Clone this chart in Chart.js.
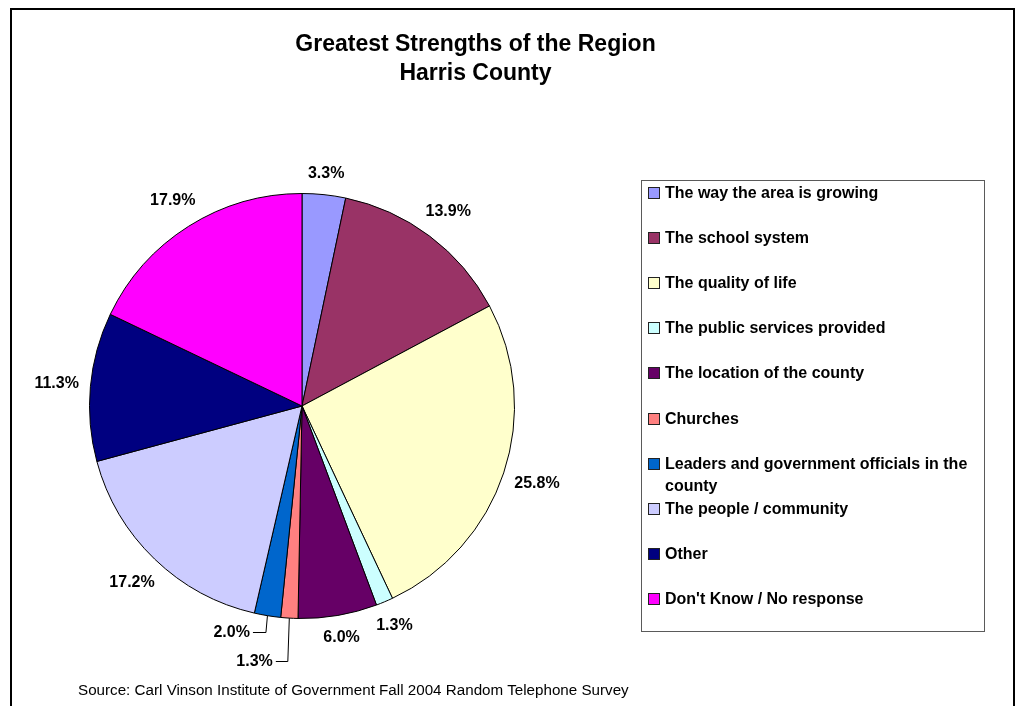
<!DOCTYPE html>
<html>
<head>
<meta charset="utf-8">
<script src="https://cdn.jsdelivr.net/npm/chart.js@4.4.1/dist/chart.umd.min.js"></script>
<style>
  html, body { margin: 0; padding: 0; background: #fff; }
  body { width: 1019px; height: 706px; position: relative; overflow: hidden; font-family: "Liberation Sans", Arial, sans-serif; }
  #frame { position: absolute; left: 10px; top: 8px; width: 1005px; height: 760px; border: 2px solid #000; box-sizing: border-box; }
  #wrap { position: absolute; left: 0; top: 0; width: 1019px; height: 706px; }
  #title { position: absolute; left: 0; width: 951px; top: 29px; text-align: center; font-weight: bold; font-size: 23px; line-height: 29px; color: #000; }
  #legend { position: absolute; left: 641px; top: 180px; width: 344px; height: 452px; border: 1px solid #5a5a5a; box-sizing: border-box; background: #fff; }
  .item { position: absolute; left: 6px; display: flex; align-items: flex-start; font-weight: bold; font-size: 16px; line-height: 22px; color: #000; }
  .sw { width: 10px; height: 10px; border: 1px solid #222; margin-top: 5px; margin-right: 5px; flex: none; }
  .txt { width: 315px; }
  #source { position: absolute; left: 78px; top: 681px; font-size: 15.2px; line-height: 18px; color: #000; white-space: nowrap; }
</style>
</head>
<body>
<div id="wrap"><canvas id="c" width="1019" height="706"></canvas></div>
<div id="frame"></div>
<div id="title">Greatest Strengths of the Region<br>Harris County</div>
<div id="legend"></div>
<div id="source">Source: Carl Vinson Institute of Government Fall 2004 Random Telephone Survey</div>
<script>
// ---- data ----
const categories = [
  "The way the area is growing",
  "The school system",
  "The quality of life",
  "The public services provided",
  "The location of the county",
  "Churches",
  "Leaders and government officials in the county",
  "The people / community",
  "Other",
  "Don't Know / No response"
];
const percentages = [3.3, 13.9, 25.8, 1.3, 6.0, 1.3, 2.0, 17.2, 11.3, 17.9];
const sliceColors = ["#9999FF", "#993366", "#FFFFCC", "#CCFFFF", "#660066", "#FF8080", "#0066CC", "#CCCCFF", "#000080", "#FF00FF"];

// ---- legend (HTML) ----
const legend = document.getElementById('legend');
categories.forEach((name, i) => {
  const it = document.createElement('div');
  it.className = 'item';
  it.style.top = (193 + 45.1 * i - 11 - 181) + 'px';
  const sw = document.createElement('span');
  sw.className = 'sw';
  sw.style.background = sliceColors[i];
  const tx = document.createElement('span');
  tx.className = 'txt';
  tx.textContent = name;
  it.appendChild(sw); it.appendChild(tx);
  legend.appendChild(it);
});

// ---- label plugin ----
const leaderLabels = { 5: { drop: 43, run: 12 }, 6: { drop: 14, run: 13 } };
const pieLabels = {
  id: 'pieLabels',
  afterDatasetsDraw(chart) {
    const ctx = chart.ctx;
    const meta = chart.getDatasetMeta(0);
    ctx.save();
    ctx.font = 'bold 16px "Liberation Sans", Arial, sans-serif';
    ctx.fillStyle = '#000';
    ctx.textBaseline = 'middle';
    meta.data.forEach((arc, i) => {
      const txt = percentages[i].toFixed(1) + '%';
      const mid = (arc.startAngle + arc.endAngle) / 2;
      const ux = Math.cos(mid), uy = Math.sin(mid);
      const R = arc.outerRadius;
      const w = ctx.measureText(txt).width, h = 16;
      if (leaderLabels[i]) {
        const L = leaderLabels[i];
        const px = arc.x + ux * R, py = arc.y + uy * R;
        const cy = arc.y + R + L.drop;
        const cx = px - 1.5;
        ctx.strokeStyle = '#000';
        ctx.lineWidth = 1;
        ctx.beginPath();
        ctx.moveTo(px, py);
        ctx.lineTo(cx, cy);
        ctx.lineTo(cx - L.run, cy);
        ctx.stroke();
        ctx.textAlign = 'right';
        ctx.fillText(txt, cx - L.run - 3, cy);
      } else {
        const d = R + 11 + Math.abs(ux) * w / 2 + Math.abs(uy) * h / 2;
        ctx.textAlign = 'center';
        ctx.fillText(txt, arc.x + ux * d, arc.y + uy * d);
      }
    });
    ctx.restore();
  }
};

new Chart(document.getElementById('c'), {
  type: 'pie',
  data: {
    labels: categories,
    datasets: [{
      data: percentages,
      backgroundColor: sliceColors,
      borderColor: '#000',
      borderWidth: 1
    }]
  },
  options: {
    responsive: false,
    animation: false,
    layout: { padding: { left: 89, top: 193, right: 504, bottom: 87 } },
    plugins: { legend: { display: false }, tooltip: { enabled: false }, title: { display: false } }
  },
  plugins: [pieLabels]
});
</script>
</body>
</html>
